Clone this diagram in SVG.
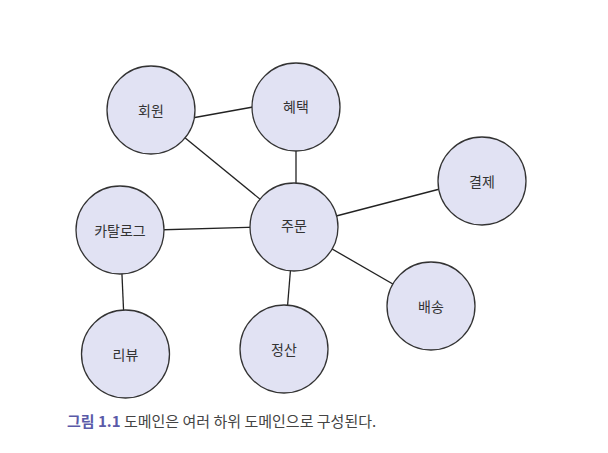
<svg xmlns="http://www.w3.org/2000/svg" width="608" height="453" viewBox="0 0 608 453">
<style>
.n{fill:#e1e2f3;stroke:#333;stroke-width:1.3}
.l{stroke:#222;stroke-width:1.3;fill:none}
.t{font-family:"Noto Sans CJK KR","Noto Sans",sans-serif;font-size:14px;fill:#333;text-anchor:middle;dominant-baseline:central}
.c{font-family:"Noto Sans CJK KR","Noto Sans",sans-serif;font-size:15px;fill:#444}
</style>
<rect width="608" height="453" fill="#fff"/>
<g id="connectors">
<line class="l" x1="192" y1="118" x2="253" y2="107"/>
<line class="l" x1="151" y1="110" x2="294" y2="227"/>
<line class="l" x1="296" y1="150" x2="296" y2="184"/>
<line class="l" x1="294" y1="227" x2="482" y2="178"/>
<line class="l" x1="120" y1="231" x2="294" y2="226"/>
<line class="l" x1="294" y1="227" x2="431" y2="306"/>
<line class="l" x1="294" y1="227" x2="284" y2="349"/>
<line class="l" x1="120" y1="230" x2="125.5" y2="354"/>
</g>
<g id="n-member"><circle class="n" cx="151" cy="110" r="44"/><text class="t" x="151" y="110">회원</text></g>
<g id="n-benefit"><circle class="n" cx="296" cy="107" r="44"/><text class="t" x="296" y="106">혜택</text></g>
<g id="n-catalog"><circle class="n" cx="120" cy="230" r="44"/><text class="t" x="120" y="230">카탈로그</text></g>
<g id="n-order"><circle class="n" cx="294" cy="227" r="44"/><text class="t" x="294" y="225">주문</text></g>
<g id="n-payment"><circle class="n" cx="482" cy="181" r="44"/><text class="t" x="482" y="181">결제</text></g>
<g id="n-delivery"><circle class="n" cx="431" cy="306" r="44"/><text class="t" x="431" y="306">배송</text></g>
<g id="n-settle"><circle class="n" cx="284" cy="349" r="44"/><text class="t" x="284" y="349">정산</text></g>
<g id="n-review"><circle class="n" cx="125.5" cy="354" r="44"/><text class="t" x="125.5" y="354">리뷰</text></g>
<text class="c" x="67" y="427"><tspan fill="#5a5aa8" font-weight="bold">그림 1.1</tspan> 도메인은 여러 하위 도메인으로 구성된다.</text>
</svg>
